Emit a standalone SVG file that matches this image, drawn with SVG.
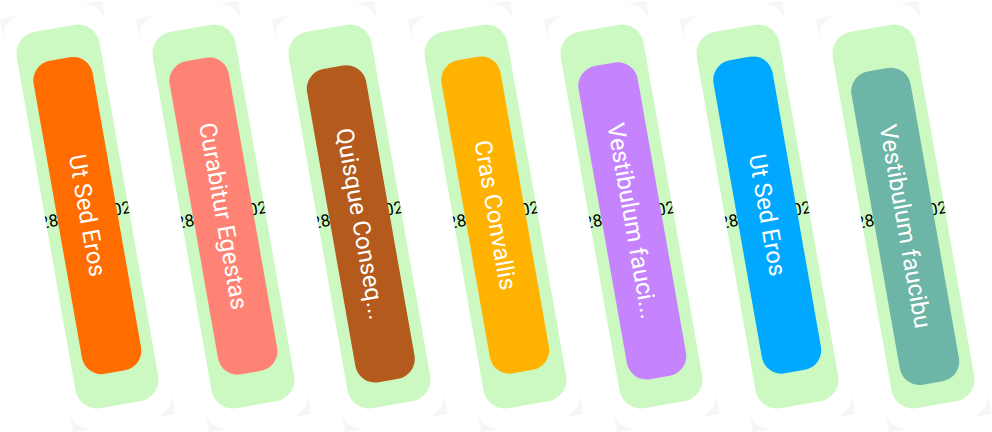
<svg xmlns="http://www.w3.org/2000/svg" width="992" height="432" viewBox="0 0 992 432">
<style>
.sh{fill:#f6f6f6}
.card{fill:#ffffff}
.band{fill:#ccf8c1}
.lbl{font-family:Roboto,"Liberation Sans",sans-serif;font-size:24px;fill:#ffffff;text-anchor:middle;dominant-baseline:central}
.date{font-family:Roboto,"Liberation Sans",sans-serif;font-size:17px;fill:#000000}
</style>
<defs>
<clipPath id="bandclip"><rect x="-42" y="-191" width="84" height="382" rx="22"/></clipPath>
</defs>
<rect width="992" height="432" fill="#ffffff"/>

<g id="node1" transform="translate(87.5 216.5) rotate(-10)">
<rect class="sh" x="-52" y="-210" width="104" height="420"/>
<rect class="card" x="-52" y="-210" width="104" height="420" rx="22"/>
<rect class="band" x="-42" y="-191" width="84" height="382" rx="22"/>
<g clip-path="url(#bandclip)"><text class="date" x="-29.5" y="4" text-anchor="end">28</text><text class="date" x="25.5" y="4">02</text></g>
<rect x="-30" y="-160" width="60" height="318" rx="20" fill="#ff6d00"/>
<text class="lbl" transform="translate(0 -1) rotate(90)">Ut Sed Eros</text>
</g>

<g id="node2" transform="translate(223.5 216.5) rotate(-10)">
<rect class="sh" x="-52" y="-210" width="104" height="420"/>
<rect class="card" x="-52" y="-210" width="104" height="420" rx="22"/>
<rect class="band" x="-42" y="-191" width="84" height="382" rx="22"/>
<g clip-path="url(#bandclip)"><text class="date" x="-29.5" y="4" text-anchor="end">28</text><text class="date" x="25.5" y="4">02</text></g>
<rect x="-30" y="-159.5" width="60" height="318" rx="20" fill="#ff8374"/>
<text class="lbl" transform="translate(0 -0.5) rotate(90)">Curabitur Egestas</text>
</g>

<g id="node3" transform="translate(359.5 216.5) rotate(-10)">
<rect class="sh" x="-52" y="-210" width="104" height="420"/>
<rect class="card" x="-52" y="-210" width="104" height="420" rx="22"/>
<rect class="band" x="-42" y="-191" width="84" height="382" rx="22"/>
<g clip-path="url(#bandclip)"><text class="date" x="-29.5" y="4" text-anchor="end">28</text><text class="date" x="25.5" y="4">02</text></g>
<rect x="-30" y="-151.5" width="60" height="318" rx="20" fill="#b45a1c"/>
<text class="lbl" transform="translate(0 7.5) rotate(90)">Quisque Conseq...</text>
</g>

<g id="node4" transform="translate(495.5 216.5) rotate(-10)">
<rect class="sh" x="-52" y="-210" width="104" height="420"/>
<rect class="card" x="-52" y="-210" width="104" height="420" rx="22"/>
<rect class="band" x="-42" y="-191" width="84" height="382" rx="22"/>
<g clip-path="url(#bandclip)"><text class="date" x="-29.5" y="4" text-anchor="end">28</text><text class="date" x="25.5" y="4">02</text></g>
<rect x="-30" y="-160.5" width="60" height="318" rx="20" fill="#ffb300"/>
<text class="lbl" transform="translate(0 -1.5) rotate(90)">Cras Convallis</text>
</g>

<g id="node5" transform="translate(631.5 216.5) rotate(-10)">
<rect class="sh" x="-52" y="-210" width="104" height="420"/>
<rect class="card" x="-52" y="-210" width="104" height="420" rx="22"/>
<rect class="band" x="-42" y="-191" width="84" height="382" rx="22"/>
<g clip-path="url(#bandclip)"><text class="date" x="-29.5" y="4" text-anchor="end">28</text><text class="date" x="25.5" y="4">02</text></g>
<rect x="-30" y="-154.5" width="60" height="318" rx="20" fill="#c584fd"/>
<text class="lbl" transform="translate(0 4.5) rotate(90)">Vestibulum fauci...</text>
</g>

<g id="node6" transform="translate(767.5 216.5) rotate(-10)">
<rect class="sh" x="-52" y="-210" width="104" height="420"/>
<rect class="card" x="-52" y="-210" width="104" height="420" rx="22"/>
<rect class="band" x="-42" y="-191" width="84" height="382" rx="22"/>
<g clip-path="url(#bandclip)"><text class="date" x="-29.5" y="4" text-anchor="end">28</text><text class="date" x="25.5" y="4">02</text></g>
<rect x="-30" y="-160.5" width="60" height="318" rx="20" fill="#00a9ff"/>
<text class="lbl" transform="translate(0 -1.5) rotate(90)">Ut Sed Eros</text>
</g>

<g id="node7" transform="translate(903.5 216.5) rotate(-10)">
<rect class="sh" x="-52" y="-210" width="104" height="420"/>
<rect class="card" x="-52" y="-210" width="104" height="420" rx="22"/>
<rect class="band" x="-42" y="-191" width="84" height="382" rx="22"/>
<g clip-path="url(#bandclip)"><text class="date" x="-29.5" y="4" text-anchor="end">28</text><text class="date" x="25.5" y="4">02</text></g>
<rect x="-30" y="-149" width="60" height="318" rx="20" fill="#6db5a6"/>
<text class="lbl" transform="translate(0 10) rotate(90)">Vestibulum faucibu</text>
</g>
</svg>
